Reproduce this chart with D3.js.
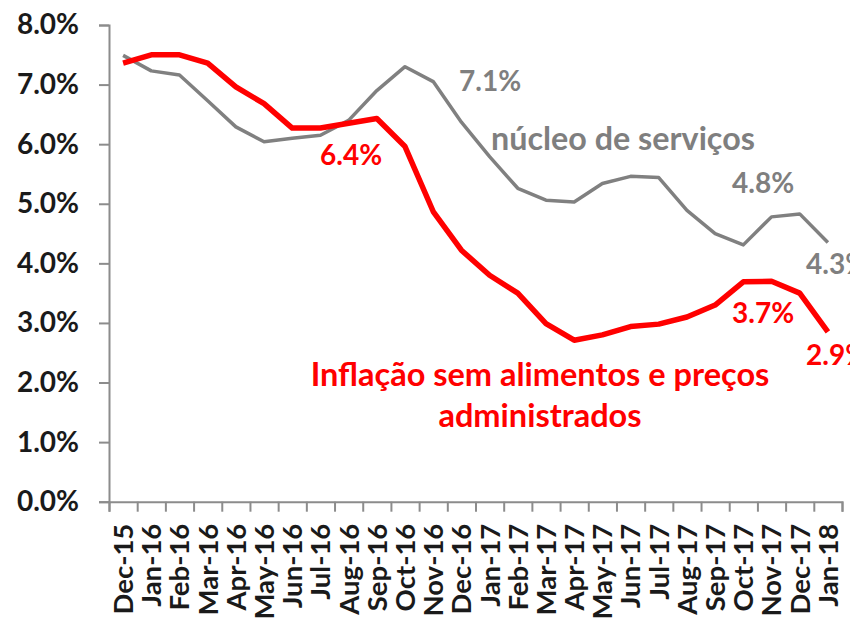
<!DOCTYPE html>
<html>
<head>
<meta charset="utf-8">
<script src="https://cdn.jsdelivr.net/npm/d3@7"></script>
<style>
  body { margin: 0; background: #fff; }
  text { font-family: Lato, "Open Sans", sans-serif; font-weight: bold; }
</style>
</head>
<body>
<div id="chart"></div>
<script>
const months = ["Dec-15","Jan-16","Feb-16","Mar-16","Apr-16","May-16","Jun-16","Jul-16","Aug-16","Sep-16","Oct-16","Nov-16","Dec-16",
                "Jan-17","Feb-17","Mar-17","Apr-17","May-17","Jun-17","Jul-17","Aug-17","Sep-17","Oct-17","Nov-17","Dec-17","Jan-18"];

// núcleo de serviços (%)
const servicos = [7.49, 7.23, 7.16, 6.73, 6.29, 6.04, 6.10, 6.15, 6.40, 6.90, 7.30, 7.05, 6.37,
                  5.79, 5.26, 5.06, 5.03, 5.34, 5.46, 5.44, 4.89, 4.50, 4.31, 4.78, 4.83, 4.35];

// inflação sem alimentos e preços administrados (%)
const semAlimentos = [7.36, 7.50, 7.50, 7.36, 6.96, 6.68, 6.27, 6.27, 6.35, 6.43, 5.96, 4.87, 4.22,
                      3.80, 3.50, 2.99, 2.71, 2.80, 2.94, 2.98, 3.10, 3.30, 3.69, 3.70, 3.50, 2.85];

const yTicks = [0, 1, 2, 3, 4, 5, 6, 7, 8];

const width = 850, height = 623;
const plot = { left: 109, right: 842, top: 25, bottom: 501.7 };

const svg = d3.select("#chart").append("svg")
    .attr("width", width)
    .attr("height", height);

const x = d3.scaleBand().domain(months).range([plot.left, plot.right]).padding(0);
const xEdge = d3.scaleLinear().domain([0, months.length]).range([plot.left, plot.right]);
const y = d3.scaleLinear().domain([0, 8]).range([plot.bottom, plot.top]);

const axisColor = "#8c8c8c";

// y axis
const yAxis = svg.append("g")
    .attr("transform", `translate(${plot.left},0)`)
    .call(d3.axisLeft(y).tickValues(yTicks).tickSize(10).tickPadding(20)
        .tickFormat(d => d.toFixed(1) + "%"));
yAxis.select(".domain").attr("stroke", axisColor).attr("stroke-width", 2);
yAxis.selectAll(".tick line").attr("stroke", axisColor).attr("stroke-width", 2);
yAxis.selectAll("text").attr("fill", "#1a1a1a").style("font-size", "28px");

// x axis: ticks between categories
const xTickAxis = svg.append("g")
    .attr("transform", `translate(0,${plot.bottom})`)
    .call(d3.axisBottom(xEdge).tickValues(d3.range(months.length + 1)).tickSize(10).tickFormat(""));
xTickAxis.select(".domain").attr("stroke", axisColor).attr("stroke-width", 2);
xTickAxis.selectAll(".tick line").attr("stroke", axisColor).attr("stroke-width", 2);

// x labels
const xLabels = svg.append("g")
    .attr("transform", `translate(0,${plot.bottom})`)
    .call(d3.axisBottom(x).tickSize(0));
xLabels.select(".domain").remove();
xLabels.selectAll("text")
    .attr("transform", "rotate(-90)")
    .attr("x", -22)
    .attr("y", 0)
    .attr("dy", "0.36em")
    .attr("text-anchor", "end")
    .attr("fill", "#1a1a1a")
    .style("font-size", "27.5px");

const cx = d => x(d) + x.bandwidth() / 2;

const line = vals => d3.line()
    .x((d, i) => cx(months[i]))
    .y(d => y(d))(vals);

svg.append("path")
    .attr("d", line(servicos))
    .attr("fill", "none")
    .attr("stroke", "#808080")
    .attr("stroke-width", 3.5)
    .attr("stroke-linejoin", "round");

svg.append("path")
    .attr("d", line(semAlimentos))
    .attr("fill", "none")
    .attr("stroke", "#ff0000")
    .attr("stroke-width", 5.5)
    .attr("stroke-linejoin", "round");

// annotations
const gray = "#7f7f7f", red = "#ff0000";
const notes = [
    { t: "6.4%", x: 320, y: 165, c: red, s: 28 },
    { t: "7.1%", x: 459, y: 91, c: gray, s: 28 },
    { t: "núcleo de serviços", x: 491, y: 150, c: gray, s: 32.3 },
    { t: "4.8%", x: 732, y: 193, c: gray, s: 28 },
    { t: "4.3%", x: 806, y: 274, c: gray, s: 28 },
    { t: "3.7%", x: 732, y: 323, c: red, s: 28 },
    { t: "2.9%", x: 806, y: 365, c: red, s: 28 }
];
svg.selectAll(".note").data(notes).enter().append("text")
    .attr("class", "note")
    .attr("x", d => d.x)
    .attr("y", d => d.y)
    .attr("fill", d => d.c)
    .style("font-size", d => d.s + "px")
    .text(d => d.t);

const title = svg.append("text")
    .attr("x", 540)
    .attr("y", 386)
    .attr("text-anchor", "middle")
    .attr("fill", red)
    .style("font-size", "32.5px");
title.append("tspan").attr("x", 540).text("Inflação sem alimentos e preços");
title.append("tspan").attr("x", 540).attr("y", 427).text("administrados");
</script>
</body>
</html>
